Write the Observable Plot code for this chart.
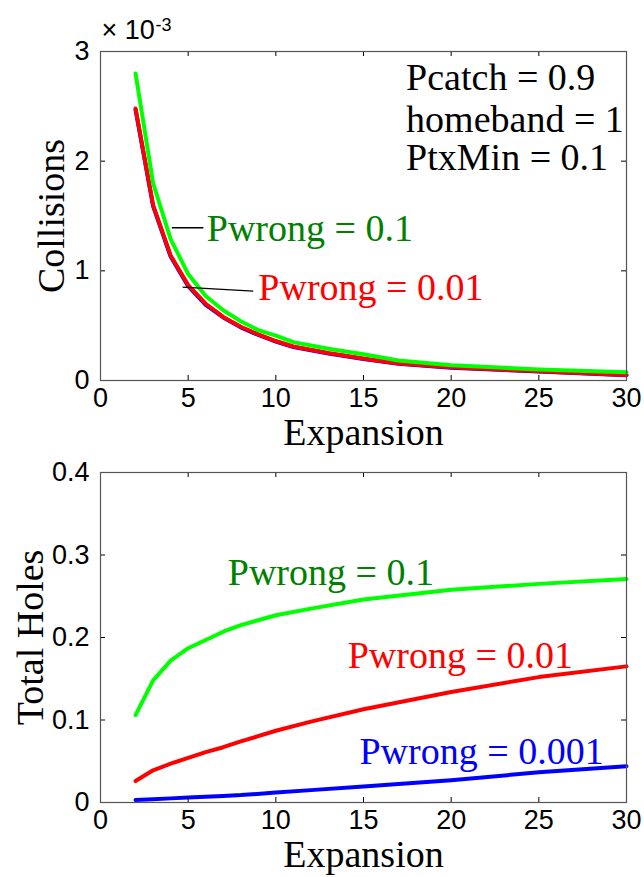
<!DOCTYPE html>
<html>
<head>
<meta charset="utf-8">
<script src="https://cdn.jsdelivr.net/npm/d3@7"></script>
<script src="https://cdn.jsdelivr.net/npm/@observablehq/plot@0.6"></script>
<style>
  body { margin: 0; background: #fff; }
  #chart svg { display: block; overflow: visible; }
</style>
</head>
<body>
<div id="chart"></div>
<script>
// ---------- Data ----------
// Top panel: Collisions (in units of 1e-3) vs Expansion
const expansionTop = [2, 3, 4, 5, 6, 7, 8, 9, 10, 11, 13, 15, 17, 20, 25, 30];
const collisionsP01   = [2.80, 1.80, 1.29, 0.97, 0.77, 0.64, 0.54, 0.46, 0.41, 0.35, 0.29, 0.24, 0.182, 0.140, 0.100, 0.076];
const collisionsP001  = [2.48, 1.60, 1.14, 0.87, 0.70, 0.58, 0.49, 0.42, 0.36, 0.31, 0.25, 0.20, 0.155, 0.120, 0.085, 0.050];
const collisionsP0001 = [2.47, 1.59, 1.13, 0.86, 0.69, 0.575, 0.485, 0.415, 0.355, 0.305, 0.245, 0.195, 0.152, 0.117, 0.082, 0.048];

// Bottom panel: Total Holes vs Expansion
const expansionBottom = [2, 3, 4, 5, 6, 7, 8, 10, 12, 15, 20, 25, 30];
const holesP01   = [0.106, 0.148, 0.172, 0.187, 0.197, 0.207, 0.215, 0.227, 0.235, 0.246, 0.258, 0.265, 0.271];
const holesP001  = [0.026, 0.039, 0.047, 0.054, 0.061, 0.067, 0.074, 0.087, 0.098, 0.113, 0.134, 0.152, 0.165];
const holesP0001 = [0.003, 0.004, 0.005, 0.006, 0.007, 0.008, 0.009, 0.012, 0.015, 0.0195, 0.027, 0.0366, 0.044];

// Ticks
const xTicks = [0, 5, 10, 15, 20, 25, 30];
const yTicksTop = [0, 1, 2, 3];
const yTicksBottom = [0, 0.1, 0.2, 0.3, 0.4];

// Text
const paramLines = ["Pcatch = 0.9", "homeband = 1", "PtxMin = 0.1"];
const paramY = [2.646, 2.266, 1.916];
const paramX = 17.43;
const topLabels = [
  {text: "Pwrong = 0.1", x: 6.06, y: 1.271, color: "#008000"},
  {text: "Pwrong = 0.01", x: 9.0, y: 0.73, color: "#ff0000"}
];
const topLeaders = [
  {x1: 4.07, y1: 1.393, x2: 5.87, y2: 1.393},
  {x1: 4.68, y1: 0.851, x2: 8.71, y2: 0.815}
];
const bottomLabels = [
  {text: "Pwrong = 0.1", x: 7.26, y: 0.264, color: "#008000"},
  {text: "Pwrong = 0.01", x: 14.1, y: 0.1625, color: "#ff0000"},
  {text: "Pwrong = 0.001", x: 14.77, y: 0.047, color: "#0000ff"}
];

const GREEN = "#00ff00", RED = "#ff0000", BLUE = "#0000ff";
const SANS = "'Liberation Sans', Arial, Helvetica, sans-serif";
const SERIF = "'Liberation Serif', 'Times New Roman', serif";
const FRAME = "#555";
const W = 644, ML = 100, MR = 18;
const plotW = W - ML - MR;
const TICKFS = 27, SERIFFS = 38;

function boxTicks(yTicks, plotH) {
  return [
    Plot.tickX(xTicks.slice(1, -1), {x: d => d, insetTop: plotH - 5, stroke: "#000", strokeWidth: 1}),
    Plot.tickX(xTicks.slice(1, -1), {x: d => d, insetBottom: plotH - 5, stroke: "#000", strokeWidth: 1}),
    Plot.tickY(yTicks.slice(1, -1), {y: d => d, insetRight: plotW - 5, stroke: "#000", strokeWidth: 1}),
    Plot.tickY(yTicks.slice(1, -1), {y: d => d, insetLeft: plotW - 5, stroke: "#000", strokeWidth: 1}),
    Plot.frame({stroke: FRAME, strokeWidth: 1.2})
  ];
}

// ---------- Top chart ----------
const H1 = 440, MT1 = 51, MB1 = 60;
const chartTop = Plot.plot({
  width: W, height: H1,
  marginLeft: ML, marginRight: MR, marginTop: MT1, marginBottom: MB1,
  style: {background: "#fff", color: "#000", overflow: "visible"},
  x: {domain: [0, 30]},
  y: {domain: [0, 3]},
  marks: [
    Plot.axisX({ticks: xTicks, tickSize: 0, tickPadding: 7, fontSize: TICKFS, fontFamily: SANS, label: null}),
    Plot.axisY({ticks: yTicksTop, tickSize: 0, tickPadding: 11, fontSize: TICKFS, fontFamily: SANS, label: null, tickFormat: d => String(d)}),
    Plot.line(expansionTop, {x: d => d, y: (d, i) => collisionsP0001[i], stroke: BLUE, strokeWidth: 4}),
    Plot.line(expansionTop, {x: d => d, y: (d, i) => collisionsP001[i], stroke: RED, strokeWidth: 4}),
    Plot.line(expansionTop, {x: d => d, y: (d, i) => collisionsP01[i], stroke: GREEN, strokeWidth: 4}),
    Plot.link(topLeaders, {x1: "x1", y1: "y1", x2: "x2", y2: "y2", stroke: "#000", strokeWidth: 1.3}),
    Plot.text(topLabels, {x: "x", y: "y", text: "text", fill: "color", textAnchor: "start", lineAnchor: "bottom", fontSize: SERIFFS, fontFamily: SERIF}),
    Plot.text(paramLines, {x: () => paramX, y: (d, i) => paramY[i], text: d => d, textAnchor: "start", lineAnchor: "bottom", fontSize: SERIFFS, fontFamily: SERIF, fill: "#000"}),
    ...boxTicks(yTicksTop, H1 - MT1 - MB1),
    Plot.text(["Expansion"], {frameAnchor: "bottom", lineAnchor: "bottom", dy: 64, fontSize: SERIFFS, fontFamily: SERIF, fill: "#000"}),
    Plot.text(["Collisions"], {frameAnchor: "left", rotate: -90, lineAnchor: "bottom", textAnchor: "middle", dx: -37, fontSize: SERIFFS, fontFamily: SERIF, fill: "#000"}),
    Plot.text(["× 10"], {frameAnchor: "top-left", textAnchor: "start", lineAnchor: "bottom", dx: 1, dy: -13, fontSize: 27, fontFamily: SANS, fill: "#000"}),
    Plot.text(["-3"], {frameAnchor: "top-left", textAnchor: "start", lineAnchor: "bottom", dx: 55, dy: -21, fontSize: 18, fontFamily: SANS, fill: "#000"})
  ]
});

// ---------- Bottom chart ----------
const H2 = 437, MT2 = 32, MB2 = 75;
const chartBottom = Plot.plot({
  width: W, height: H2,
  marginLeft: ML, marginRight: MR, marginTop: MT2, marginBottom: MB2,
  style: {background: "#fff", color: "#000", overflow: "visible"},
  x: {domain: [0, 30]},
  y: {domain: [0, 0.4]},
  marks: [
    Plot.axisX({ticks: xTicks, tickSize: 0, tickPadding: 7, fontSize: TICKFS, fontFamily: SANS, label: null}),
    Plot.axisY({ticks: yTicksBottom, tickSize: 0, tickPadding: 11, fontSize: TICKFS, fontFamily: SANS, label: null, tickFormat: d => String(d)}),
    Plot.line(expansionBottom, {x: d => d, y: (d, i) => holesP0001[i], stroke: BLUE, strokeWidth: 4}),
    Plot.line(expansionBottom, {x: d => d, y: (d, i) => holesP001[i], stroke: RED, strokeWidth: 4}),
    Plot.line(expansionBottom, {x: d => d, y: (d, i) => holesP01[i], stroke: GREEN, strokeWidth: 4}),
    Plot.text(bottomLabels, {x: "x", y: "y", text: "text", fill: "color", textAnchor: "start", lineAnchor: "bottom", fontSize: SERIFFS, fontFamily: SERIF}),
    ...boxTicks(yTicksBottom, H2 - MT2 - MB2),
    Plot.text(["Expansion"], {frameAnchor: "bottom", lineAnchor: "bottom", dy: 64, fontSize: SERIFFS, fontFamily: SERIF, fill: "#000"}),
    Plot.text(["Total Holes"], {frameAnchor: "left", rotate: -90, lineAnchor: "bottom", textAnchor: "middle", dx: -58, fontSize: SERIFFS, fontFamily: SERIF, fill: "#000"})
  ]
});

const root = document.getElementById("chart");
root.appendChild(chartTop);
root.appendChild(chartBottom);
</script>
</body>
</html>
